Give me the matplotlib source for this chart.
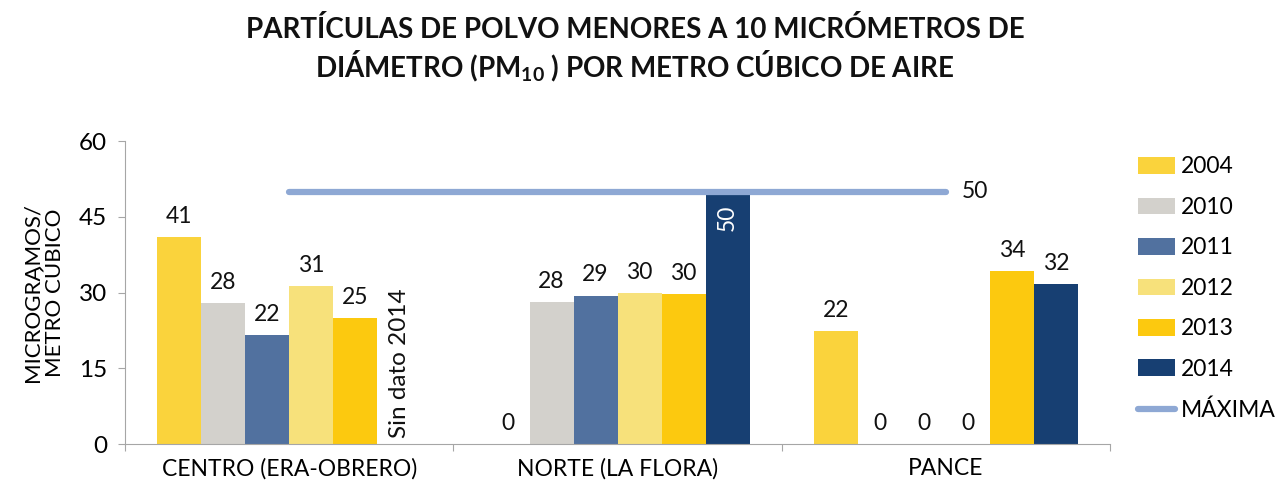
import numpy as np
import matplotlib
matplotlib.use("Agg")
import matplotlib.pyplot as plt
from matplotlib.patches import Patch
from matplotlib.lines import Line2D

plt.rcParams['font.family'] = ['Lato', 'DejaVu Sans']
plt.rcParams['mathtext.fontset'] = 'custom'
plt.rcParams['mathtext.rm'] = 'Lato'
plt.rcParams['mathtext.bf'] = 'Lato:bold'

# Data
stations = ["CENTRO (ERA-OBRERO)", "NORTE (LA FLORA)", "PANCE"]
years = ["2004", "2010", "2011", "2012", "2013", "2014"]
values = {
    "2004": [41.0, 0.0, 22.4],
    "2010": [28.0, 28.1, 0.0],
    "2011": [21.6, 29.4, 0.0],
    "2012": [31.3, 29.9, 0.0],
    "2013": [24.9, 29.7, 34.2],
    "2014": [None, 50.0, 31.6],
}
colors = ["#FAD33C", "#D3D1CC", "#51719F", "#F7E17B", "#FCC90F", "#173F72"]
maxima = 50
yticks = [0, 15, 30, 45, 60]

fig = plt.figure(figsize=(12.8, 4.91), dpi=100)
ax = fig.add_axes([0.0977, 0.0957, 0.7695, 0.6170])

fs = 16.5
bw = 0.134
x = np.arange(len(stations))
handles = []
for i, (yr, col) in enumerate(zip(years, colors)):
    off = (i - 2.5) * bw
    for j, v in enumerate(values[yr]):
        xp = x[j] + off
        if v is None:
            ax.text(xp, 1.2, "Sin dato 2014", rotation=90, ha="center", va="bottom",
                    fontsize=fs + 1, color="#111111")
            continue
        ax.bar(xp, v, width=bw, color=col, edgecolor="none", zorder=2)
        if yr == "2014" and v >= maxima:
            ax.text(xp, v - 2.5, f"{v:.0f}", rotation=90, ha="center", va="top",
                    fontsize=fs, color="white", zorder=4)
        else:
            ax.text(xp, v + 2.0, f"{v:.0f}", ha="center", va="bottom",
                    fontsize=fs, color="#111111")
    handles.append(Patch(facecolor=col, edgecolor="none", label=yr))

# Maximum line
ax.plot([x[0], x[-1]], [maxima, maxima], color="#8EA8D4", lw=4.5,
        solid_capstyle="round", zorder=3)
ax.text(x[-1] + 0.05, maxima, f"{maxima}", ha="left", va="center",
        fontsize=fs, color="#111111")
handles.append(Line2D([0], [0], color="#8EA8D4", lw=4.5, solid_capstyle="round",
                      label="MÁXIMA"))

ax.set_xlim(-0.5, 2.5)
ax.set_ylim(0, 60)
ax.set_yticks(yticks)
ax.set_yticklabels([str(t) for t in yticks], fontsize=fs + 1)
ax.set_xticks([-0.5, 0.5, 1.5, 2.5])
ax.set_xticklabels([])
ax.set_xticks(x, minor=True)
ax.set_xticklabels(stations, minor=True, fontsize=fs)
ax.tick_params(axis="x", which="minor", length=0, pad=10)
ax.tick_params(axis="x", which="major", length=5, color="#A6A6A6", direction="out")
ax.tick_params(axis="y", length=5, color="#A6A6A6", pad=8)
for s in ["top", "right"]:
    ax.spines[s].set_visible(False)
for s in ["left", "bottom"]:
    ax.spines[s].set_color("#A6A6A6")

ax.set_ylabel("MICROGRAMOS/\nMETRO CÚBICO", fontsize=fs - 0.5, labelpad=10,
              linespacing=1.15)

leg = fig.legend(handles=handles, loc="upper left", bbox_to_anchor=(0.882, 0.70),
                 frameon=False, fontsize=fs, handlelength=1.6, handleheight=0.75,
                 handletextpad=0.25, labelspacing=0.85, borderaxespad=0)

fig.text(0.496, 0.94, "PARTÍCULAS DE POLVO MENORES A 10 MICRÓMETROS DE",
         ha="center", va="center", fontsize=20, fontweight="bold", color="#111111")
fig.text(0.496, 0.865, r"DIÁMETRO (PM$_{\mathbf{10}}$ ) POR METRO CÚBICO DE AIRE",
         ha="center", va="center", fontsize=20, fontweight="bold", color="#111111")

fig.savefig("out.png", dpi=100)
